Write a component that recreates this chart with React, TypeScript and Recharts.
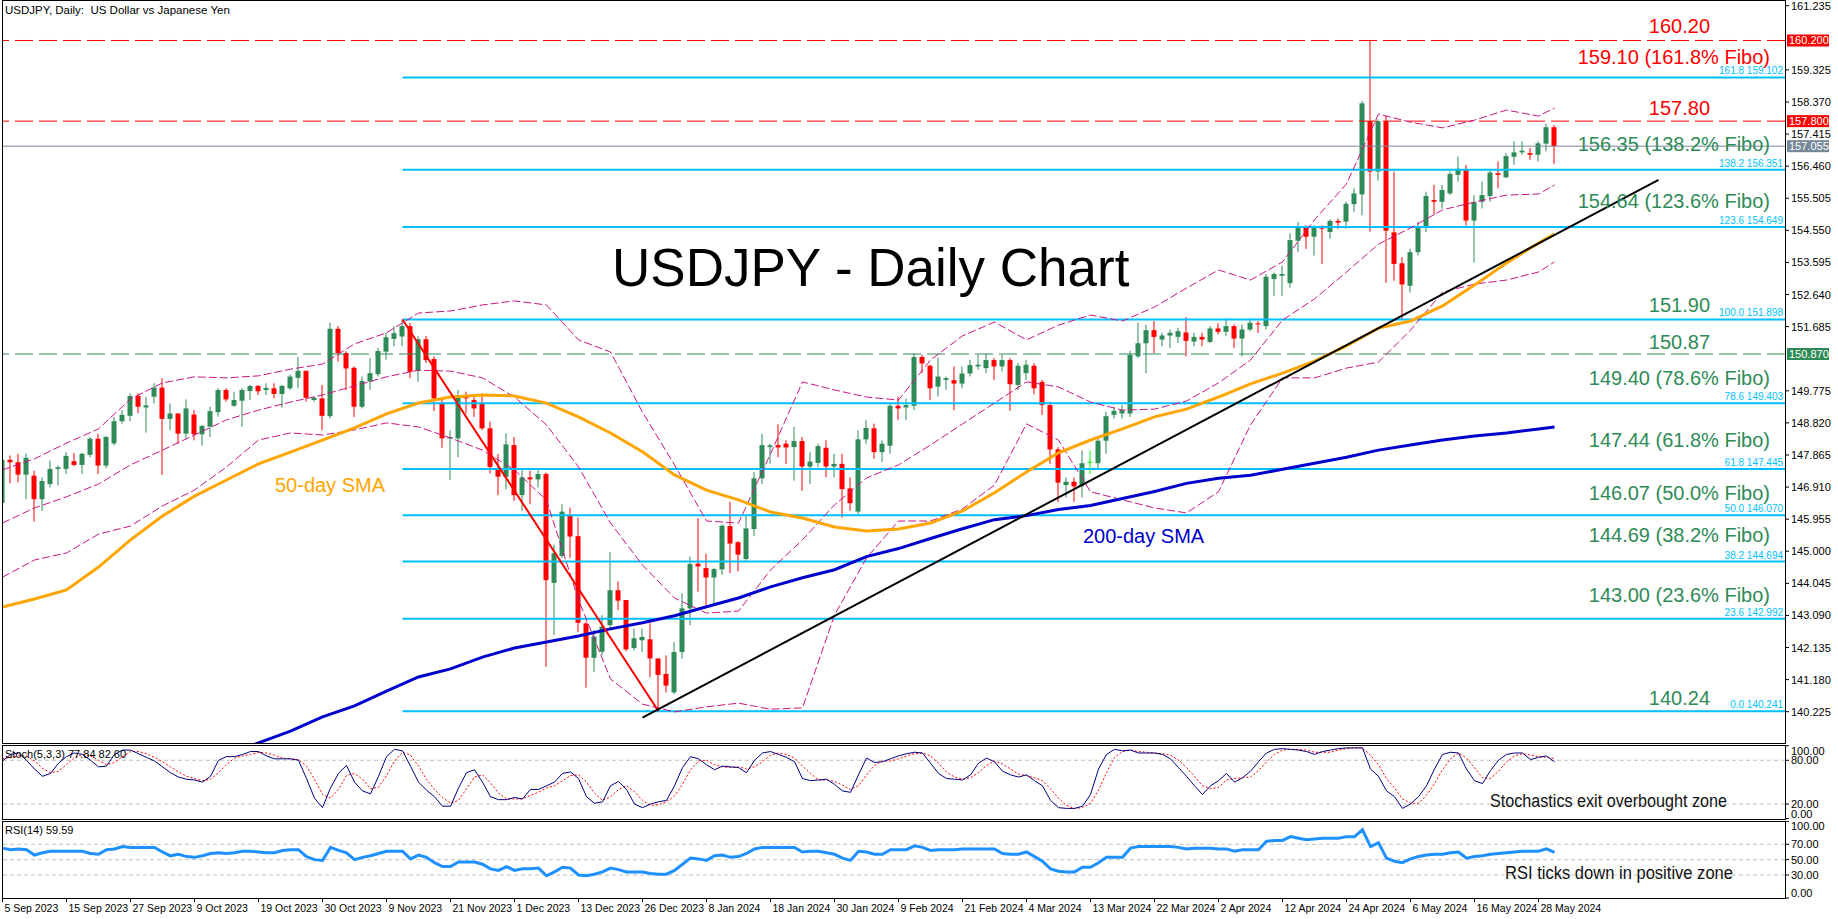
import {
  Bar,
  ComposedChart,
  Line,
  ReferenceDot,
  ReferenceLine,
  XAxis,
  YAxis,
} from 'recharts'

const FONT = '"Liberation Sans", Arial, sans-serif'
const X_DOMAIN: [number, number] = [-0.0625, 222.8125]
const PRICE_DOMAIN: [number, number] = [139.294, 161.375]

// daily candles, 5 Sep 2023 .. 30 May 2024
const open = [
  146.44, 147.72, 147.65, 147.28, 147.25, 146.55, 147.0, 147.45, 147.45, 147.68,
  147.57, 147.87, 148.35, 147.55, 148.21, 148.87, 149.03, 149.62, 149.28, 149.6,
  149.87, 148.94, 149.1, 148.5, 149.07, 148.48, 148.71, 149.14, 149.8, 149.33,
  149.48, 149.77, 149.92, 149.8, 149.85, 149.68, 149.85, 150.16, 150.37, 149.5,
  149.55, 149.02, 151.62, 150.9, 150.46, 149.3, 150.05, 150.27, 150.94, 151.32,
  151.39, 151.7, 150.37, 151.31, 150.72, 149.42, 148.36, 148.36, 149.65, 149.5,
  149.42, 148.66, 147.45, 147.22, 148.16, 146.67, 147.2, 147.14, 147.3, 144.06,
  144.86, 146.08, 145.45, 142.85, 141.83, 142.01, 142.8, 143.84, 143.55, 142.12,
  142.35, 142.38, 141.81, 141.35, 140.8, 142.0, 143.3, 144.63, 144.5, 144.22,
  144.46, 145.75, 145.27, 144.77, 145.66, 147.17, 148.1, 148.16, 148.2, 148.1,
  148.28, 147.52, 147.63, 148.08, 147.52, 147.6, 146.87, 146.18, 148.33, 148.66,
  147.95, 148.14, 149.33, 149.28, 149.33, 150.78, 150.52, 149.9, 150.1, 150.09,
  149.99, 150.29, 150.5, 150.45, 150.69, 150.5, 150.69, 149.95, 150.3, 150.52,
  150.04, 149.35, 148.03, 146.97, 147.07, 146.95, 147.65, 147.62, 148.29, 149.06,
  149.1, 149.1, 150.8, 151.19, 151.58, 151.3, 151.42, 151.38, 151.51, 151.24,
  151.38, 151.23, 151.63, 151.53, 151.7, 151.33, 151.6, 151.78, 151.7, 153.1,
  153.2, 152.98, 154.24, 154.64, 154.36, 154.64, 154.5, 154.83, 154.81, 155.33,
  155.62, 157.8, 156.3, 157.8, 154.49, 153.57, 152.9, 153.9, 154.66, 155.45,
  155.4, 155.65, 156.2, 156.37, 154.84, 155.4, 155.57, 156.25, 156.13, 156.74,
  156.87, 156.85, 156.8, 157.13, 157.62,
]
const high = [
  147.8, 147.85, 147.9, 147.91, 147.4, 147.2, 147.7, 147.55, 147.95, 147.92,
  147.93, 148.4, 148.5, 148.44, 149.0, 149.2, 149.7, 149.7, 149.6, 150.0,
  150.15, 149.4, 149.1, 149.52, 149.2, 148.75, 149.3, 149.85, 149.85, 149.75,
  149.85, 149.95, 149.95, 150.0, 150.0, 149.95, 150.26, 150.78, 150.37, 149.6,
  149.95, 151.8, 151.7, 150.95, 150.5, 150.2, 150.75, 151.05, 151.5, 151.7,
  151.88, 151.8, 151.4, 151.4, 150.8, 149.55, 148.6, 149.8, 149.75, 149.65,
  149.7, 148.86, 147.9, 148.51, 148.4, 147.45, 147.4, 147.45, 147.34, 145.2,
  146.4, 146.3, 146.0, 142.9, 142.66, 143.1, 144.97, 144.1, 143.55, 142.7,
  142.7, 142.86, 141.81, 141.9, 142.3, 143.75, 144.84, 145.98, 144.93, 144.5,
  145.8, 146.47, 145.3, 146.05, 147.35, 148.5, 148.2, 148.78, 148.3, 148.7,
  148.4, 147.95, 148.2, 148.3, 147.9, 147.9, 147.2, 148.6, 148.9, 148.8,
  148.3, 149.42, 149.6, 149.55, 150.9, 150.85, 150.55, 150.76, 150.2, 150.5,
  150.5, 150.7, 150.85, 150.87, 150.75, 150.85, 150.75, 150.6, 150.7, 150.6,
  150.1, 149.45, 148.1, 147.2, 147.2, 148.0, 148.0, 148.35, 149.15, 149.3,
  149.35, 150.96, 151.8, 151.74, 151.86, 151.5, 151.6, 151.65, 151.97, 151.5,
  151.5, 151.7, 151.78, 151.93, 151.75, 151.75, 151.93, 151.85, 153.25, 153.3,
  153.5, 154.46, 154.8, 154.7, 154.7, 154.7, 154.88, 154.9, 155.4, 155.8,
  158.4, 160.21, 157.85, 157.96, 156.3, 153.75, 154.0, 154.8, 155.7, 155.9,
  155.9, 156.3, 156.75, 156.5, 155.6, 156.0, 156.33, 156.6, 156.85, 157.2,
  157.2, 157.0, 157.2, 157.72, 157.68,
]
const low = [
  146.35, 147.02, 147.05, 146.55, 145.88, 146.2, 146.9, 146.96, 147.3, 147.53,
  147.3, 147.8, 147.3, 147.47, 148.15, 148.8, 148.87, 149.1, 148.53, 149.4,
  147.27, 148.6, 148.2, 148.35, 148.3, 148.14, 148.4, 149.0, 149.45, 149.3,
  148.7, 149.5, 149.65, 149.65, 149.55, 149.27, 149.8, 149.85, 149.45, 149.45,
  148.6, 148.95, 150.64, 149.8, 149.0, 149.25, 149.8, 150.2, 150.7, 151.1,
  151.1, 150.15, 150.04, 150.6, 149.17, 148.08, 147.12, 147.8, 149.1, 149.0,
  148.6, 147.32, 146.67, 146.84, 146.5, 146.2, 146.4, 146.9, 141.56, 142.51,
  144.8, 144.8, 142.6, 140.94, 141.4, 141.9, 142.7, 143.25, 142.02, 142.05,
  142.0, 141.25, 140.25, 140.8, 140.75, 141.8, 142.8, 143.8, 143.4, 143.4,
  144.3, 144.35, 144.4, 144.7, 145.45, 147.0, 147.6, 147.8, 147.6, 147.1,
  146.8, 147.0, 147.5, 147.2, 147.2, 146.0, 146.2, 146.1, 148.2, 147.75,
  147.65, 147.9, 148.9, 148.9, 149.2, 150.3, 149.5, 149.6, 149.8, 149.2,
  149.85, 150.2, 150.4, 150.3, 150.1, 150.35, 149.18, 149.8, 150.1, 149.67,
  149.05, 147.6, 146.47, 146.6, 146.47, 146.6, 147.3, 147.47, 147.9, 148.95,
  148.95, 149.0, 150.75, 150.3, 150.9, 151.1, 151.05, 151.2, 150.8, 151.1,
  151.1, 151.2, 151.45, 151.4, 151.05, 150.8, 151.55, 151.5, 151.6, 152.6,
  152.6, 152.85, 153.9, 154.0, 153.8, 153.55, 154.3, 154.6, 154.6, 155.1,
  155.0, 154.51, 156.03, 152.99, 153.05, 151.9, 152.7, 153.8, 154.5, 155.0,
  155.2, 155.6, 156.0, 154.69, 153.59, 155.2, 155.4, 155.8, 156.1, 156.5,
  156.8, 156.65, 156.6, 156.9, 156.53,
]
const close = [
  147.72, 147.65, 147.28, 147.78, 146.55, 147.09, 147.45, 147.5, 147.84, 147.57,
  147.9, 148.35, 147.55, 148.4, 148.87, 149.06, 149.62, 149.3, 149.34, 149.87,
  148.94, 149.1, 148.5, 149.25, 148.48, 148.73, 149.17, 149.8, 149.52, 149.5,
  149.8, 149.92, 149.76, 149.86, 149.68, 149.92, 150.2, 150.37, 149.57, 149.57,
  149.03, 151.62, 150.9, 150.44, 149.3, 150.07, 150.3, 150.96, 151.37, 151.49,
  151.7, 150.34, 151.31, 150.69, 149.55, 148.36, 148.4, 149.65, 149.55, 149.25,
  148.66, 147.51, 147.22, 148.18, 146.67, 147.2, 147.14, 147.3, 144.14, 144.94,
  146.18, 145.44, 142.87, 141.83, 142.46, 142.76, 143.84, 143.53, 142.08, 142.41,
  142.45, 141.81, 141.32, 141.0, 142.0, 143.3, 144.62, 144.55, 144.22, 144.47,
  145.76, 145.23, 144.9, 145.68, 147.17, 148.16, 148.15, 148.09, 148.09, 148.28,
  147.52, 147.67, 148.13, 147.52, 147.6, 146.85, 146.43, 148.33, 148.67, 147.95,
  148.2, 149.33, 149.25, 149.35, 150.78, 150.59, 149.85, 150.2, 150.15, 149.99,
  150.29, 150.54, 150.55, 150.69, 150.5, 150.69, 149.97, 150.52, 150.55, 149.85,
  149.35, 148.03, 147.04, 147.07, 146.93, 147.62, 147.65, 148.29, 149.02, 149.18,
  149.2, 150.84, 151.19, 151.58, 151.38, 151.42, 151.5, 151.55, 151.26, 151.38,
  151.3, 151.63, 151.53, 151.7, 151.33, 151.6, 151.8, 151.75, 153.17, 153.25,
  153.25, 154.26, 154.64, 154.36, 154.64, 154.6, 154.83, 154.78, 155.34, 155.65,
  158.33, 156.3, 157.8, 154.54, 153.55, 152.94, 153.9, 154.66, 155.57, 155.4,
  155.75, 156.23, 156.38, 154.84, 155.39, 155.6, 156.27, 156.2, 156.76, 156.87,
  156.92, 156.8, 157.14, 157.62, 157.055,
]

const sampleIdx = [
  0, 4, 8, 12, 16, 20, 24, 28, 32, 36, 40, 44, 48, 52, 56, 60, 64, 68, 72, 76,
  80, 84, 88, 92, 96, 100, 104, 108, 112, 116, 120, 124, 128, 132, 136, 140,
  144, 148, 152, 156, 160, 164, 168, 172, 176, 180, 184, 188, 192, 194,
]
const sma50 = [
  143.34, 143.58, 143.85, 144.53, 145.34, 146.05, 146.64, 147.12, 147.6, 147.95,
  148.31, 148.67, 149.09, 149.41, 149.59, 149.65, 149.62, 149.41, 149.0, 148.52,
  147.96, 147.27, 146.82, 146.53, 146.17, 145.99, 145.72, 145.6, 145.66, 145.84,
  146.2, 146.74, 147.36, 147.93, 148.31, 148.64, 149.0, 149.23, 149.59, 149.98,
  150.3, 150.66, 151.11, 151.64, 151.85, 152.3, 152.92, 153.58, 154.17, 154.44,
]
const bbUpper = [
  147.42, 147.75, 148.22, 148.64, 149.53, 150.01, 150.19, 150.16, 150.22, 150.42,
  150.57, 151.17, 151.5, 152.09, 152.15, 152.33, 152.45, 152.33, 151.29, 150.93,
  149.14, 147.57, 145.9, 145.84, 147.9, 150.04, 149.8, 149.59, 149.5, 150.69,
  151.41, 151.82, 151.29, 151.73, 152.03, 151.85, 152.27, 152.83, 153.37, 153.07,
  153.61, 154.86, 155.93, 158.01, 157.77, 157.6, 157.83, 158.13, 157.95, 158.19,
]
const bbMiddle = [
  145.84, 146.29, 146.62, 147.0, 147.57, 148.01, 148.46, 148.91, 149.2, 149.44,
  149.65, 149.92, 150.19, 150.39, 150.36, 150.16, 149.59, 148.76, 147.51, 145.84,
  144.59, 143.61, 143.16, 143.22, 144.44, 145.34, 146.38, 147.18, 147.57, 148.16,
  148.79, 149.41, 150.04, 149.89, 149.44, 149.2, 149.23, 149.47, 150.01, 150.69,
  151.88, 152.51, 153.31, 154.14, 154.62, 155.16, 155.39, 155.6, 155.63, 155.9,
]
const bbLower = [
  144.23, 144.74, 144.95, 145.51, 145.75, 146.35, 146.82, 147.51, 148.31, 148.52,
  148.46, 148.61, 148.82, 148.7, 148.37, 148.01, 147.42, 146.52, 143.55, 141.2,
  140.45, 140.22, 140.37, 140.48, 140.3, 140.34, 143.1, 144.8, 145.9, 145.9,
  146.26, 146.97, 148.79, 148.31, 146.77, 146.53, 146.29, 146.14, 146.77, 148.76,
  150.16, 150.16, 150.45, 150.63, 151.58, 152.71, 152.95, 153.07, 153.31, 153.61,
]
const sma200Idx = [
  28, 32, 36, 40, 44, 48, 52, 56, 60, 64, 68, 72, 76, 80, 84, 88, 92, 96, 100,
  104, 108, 112, 116, 120, 124, 128, 132, 136, 140, 144, 148, 152, 156, 160, 164,
  168, 172, 176, 180, 184, 188, 192, 194,
]
const sma200 = [
  138.94, 139.3, 139.65, 140.07, 140.4, 140.84, 141.26, 141.5, 141.85, 142.12,
  142.3, 142.48, 142.69, 142.87, 143.08, 143.35, 143.61, 143.94, 144.21, 144.45,
  144.84, 145.08, 145.38, 145.67, 145.94, 146.06, 146.24, 146.36, 146.57, 146.78,
  147.02, 147.17, 147.26, 147.44, 147.62, 147.8, 148.01, 148.16, 148.31, 148.43,
  148.52, 148.64, 148.7,
]

const stochMain = [
  79, 88, 90, 80, 68, 58, 62, 76, 85, 90, 88, 80, 71, 72, 88, 94, 94, 89, 84, 79,
  71, 63, 57, 54, 53, 50, 58, 80, 85, 85, 88, 92, 92, 86, 82, 82, 82, 80, 55, 28,
  15, 42, 62, 73, 50, 38, 34, 58, 85, 95, 93, 72, 50, 39, 30, 17, 17, 42, 63, 67,
  50, 30, 26, 26, 29, 27, 40, 40, 45, 50, 62, 64, 55, 30, 21, 23, 45, 51, 40, 20,
  15, 20, 23, 25, 45, 70, 85, 82, 74, 67, 72, 71, 70, 63, 80, 90, 92, 88, 84, 78,
  55, 52, 53, 54, 47, 38, 36, 60, 83, 77, 78, 82, 86, 89, 91, 90, 76, 62, 55, 54,
  53, 60, 76, 83, 78, 65, 60, 57, 60, 52, 45, 25, 15, 14, 14, 17, 33, 68, 88, 95,
  93, 94, 90, 90, 90, 88, 82, 70, 58, 45, 33, 45, 52, 62, 50, 56, 65, 78, 90, 95,
  96, 95, 94, 92, 88, 92, 94, 96, 97, 97, 97, 68, 58, 38, 30, 14, 20, 30, 45, 68,
  88, 91, 90, 68, 52, 48, 66, 80, 88, 90, 90, 81, 84, 86, 77.84,
]
const stochSignal = [
  82, 84, 86, 86, 79, 69, 63, 65, 74, 84, 88, 86, 80, 74, 77, 85, 92, 92, 89, 84,
  78, 71, 64, 58, 55, 52, 54, 63, 74, 83, 86, 88, 91, 90, 87, 83, 82, 81, 72, 54,
  33, 28, 40, 59, 62, 54, 41, 43, 59, 79, 91, 87, 72, 54, 40, 29, 21, 25, 41, 57,
  60, 49, 35, 27, 27, 27, 32, 36, 42, 45, 52, 59, 60, 50, 35, 25, 30, 40, 45, 37,
  25, 18, 19, 23, 31, 47, 67, 79, 80, 74, 71, 70, 71, 68, 71, 78, 87, 90, 88, 83,
  72, 62, 53, 53, 51, 46, 40, 45, 60, 73, 79, 79, 82, 86, 89, 90, 86, 76, 64, 57,
  54, 56, 63, 73, 79, 75, 68, 61, 59, 56, 52, 41, 28, 18, 14, 15, 21, 39, 63, 84,
  92, 94, 92, 91, 90, 89, 87, 80, 70, 58, 45, 41, 43, 53, 55, 56, 57, 66, 78, 88,
  94, 95, 95, 94, 91, 91, 91, 94, 96, 97, 97, 87, 74, 55, 42, 27, 21, 21, 32, 48,
  67, 82, 90, 83, 70, 56, 55, 65, 78, 86, 89, 87, 85, 84, 82.6,
]
const rsi = [
  65, 63, 64, 63, 56, 59, 61, 61, 61, 61, 61, 58, 57, 63, 64, 67, 66, 66, 66, 66,
  60, 55, 57, 54, 53, 55, 58, 59, 58, 59, 61, 61, 60, 59, 59, 62, 63, 63, 54, 50,
  49, 66, 62, 59, 50, 53, 55, 58, 61, 61, 61, 51, 56, 53, 46, 41, 41, 47, 47, 47,
  44, 38, 36, 41, 36, 38, 38, 39, 29, 34, 40, 39, 30, 29, 31, 34, 39, 37, 34, 34,
  34, 32, 31, 31, 36, 44, 52, 51, 49, 55, 56, 53, 54, 58, 64, 66, 66, 66, 66, 66,
  60, 61, 61, 59, 57, 52, 49, 61, 60, 57, 57, 63, 63, 63, 68, 66, 62, 63, 63, 63,
  64, 64, 64, 64, 64, 58, 57, 57, 60, 54, 48, 38, 35, 34, 34, 40, 40, 46, 53, 53,
  53, 65, 67, 67, 67, 67, 67, 66, 64, 65, 65, 65, 64, 64, 61, 63, 63, 63, 74, 75,
  75, 80, 78, 76, 77, 78, 78, 78, 80, 80, 89, 67, 72, 52, 48, 46, 51, 54, 56, 57,
  57, 59, 60, 52, 54, 55, 57, 58, 59, 60, 61, 61, 61, 64, 59.59,
]

const priceTicks = [
  140.225, 141.18, 142.135, 143.09, 144.045, 145.0, 145.955, 146.91, 147.865,
  148.82, 149.775, 151.685, 152.64, 153.595, 154.55, 155.505, 156.46, 157.415,
  158.37, 159.325, 161.235,
]
const dateTickIdx = [
  0, 8, 16, 24, 32, 40, 48, 56, 64, 72, 80, 88, 96, 104, 112, 120, 128, 136, 144,
  152, 160, 168, 176, 184, 192,
]
const dateLabels = [
  '5 Sep 2023', '15 Sep 2023', '27 Sep 2023', '9 Oct 2023', '19 Oct 2023',
  '30 Oct 2023', '9 Nov 2023', '21 Nov 2023', '1 Dec 2023', '13 Dec 2023',
  '26 Dec 2023', '8 Jan 2024', '18 Jan 2024', '30 Jan 2024', '9 Feb 2024',
  '21 Feb 2024', '4 Mar 2024', '13 Mar 2024', '22 Mar 2024', '2 Apr 2024',
  '12 Apr 2024', '24 Apr 2024', '6 May 2024', '16 May 2024', '28 May 2024',
]

// Fibonacci retracement of the 151.898 -> 140.241 leg
const fiboRatios = ['161.8', '138.2', '123.6', '100.0', '78.6', '61.8', '50.0', '38.2', '23.6', '0.0']
const fiboLevels = [159.102, 156.351, 154.649, 151.898, 149.403, 147.445, 146.07, 144.694, 142.992, 140.241]

// analyst's price notes: text, colour, right edge (bar), baseline price
const noteTexts = [
  '160.20', '159.10 (161.8% Fibo)', '157.80', '156.35 (138.2% Fibo)', '154.64 (123.6% Fibo)',
  '151.90', '150.87', '149.40 (78.6% Fibo)', '147.44 (61.8% Fibo)', '146.07 (50.0% Fibo)',
  '144.69 (38.2% Fibo)', '143.00 (23.6% Fibo)', '140.24',
]
const noteRed = [true, true, true, false, false, false, false, false, false, false, false, false, false]
const noteLong = [false, true, false, true, true, false, false, true, true, true, true, true, false]
const notePrice = [
  160.423, 159.5, 157.983, 156.911, 155.215, 152.12, 151.02, 149.948, 148.1, 146.525,
  145.275, 143.49, 140.425,
]

const pick = (idx: number[], vals: number[], i: number) => {
  const k = idx.indexOf(i)
  return k < 0 ? null : vals[k]
}

const rows = open.map((o, i) => ({
  i,
  o,
  h: high[i],
  l: low[i],
  c: close[i],
  range: [low[i], high[i]],
  sma50: pick(sampleIdx, sma50, i),
  sma200: pick(sma200Idx, sma200, i),
  bbU: pick(sampleIdx, bbUpper, i),
  bbM: pick(sampleIdx, bbMiddle, i),
  bbL: pick(sampleIdx, bbLower, i),
  stM: stochMain[i],
  stS: stochSignal[i],
  rsi: rsi[i],
}))

function Candle(props: any) {
  const { x, y, width, height, payload } = props
  if (!payload || x == null) return null
  const { o, h, l, c } = payload
  const top = Math.min(y, y + height)
  const span = Math.abs(height)
  const py = (v: number) => top + ((h - v) / (h - l || 1)) * span
  const cx = x + width / 2
  const color = c === o ? '#00ff00' : c > o ? '#2e8b57' : '#ff0000'
  const bTop = py(Math.max(o, c))
  const bBot = py(Math.min(o, c))
  return (
    <g>
      <line x1={cx} x2={cx} y1={top} y2={top + span} stroke={color} strokeWidth={1} />
      {c === o ? (
        <line x1={cx - 2.5} x2={cx + 2.5} y1={bTop} y2={bTop} stroke={color} />
      ) : (
        <rect x={cx - 2.5} y={bTop} width={5} height={Math.max(1, bBot - bTop)} fill={color} />
      )}
    </g>
  )
}

function PriceTick(props: any) {
  const { x, y, payload } = props
  return (
    <g>
      <line x1={x} x2={x + 4} y1={y} y2={y} stroke="#000" />
      <text x={x + 6} y={y + 4} fontSize={11} fontFamily={FONT} fill="#000">
        {Number(payload.value).toFixed(3)}
      </text>
    </g>
  )
}

function OscTick(props: any) {
  const { x, y, payload, top, bottom } = props
  const v = payload.value
  const dy = v === top ? 5 : v === bottom ? -5 : 0
  return (
    <g>
      <line x1={x} x2={x + 4} y1={y} y2={y} stroke="#000" />
      <text x={x + 6} y={y + dy + 4} fontSize={11} fontFamily={FONT} fill="#000">
        {Number(v).toFixed(2)}
      </text>
    </g>
  )
}

function DateTick(props: any) {
  const { x, y, payload } = props
  const k = dateTickIdx.indexOf(payload.value)
  return (
    <g>
      <line x1={x} x2={x} y1={y} y2={y + 4} stroke="#000" />
      <text x={x + 2} y={y + 14} fontSize={10.5} fontFamily={FONT} fill="#000">
        {dateLabels[k]}
      </text>
    </g>
  )
}

function AxisTag(props: any) {
  const { viewBox, text, bg } = props
  if (!viewBox) return null
  const x = viewBox.x + viewBox.width + 2
  return (
    <g>
      <rect x={x} y={viewBox.y - 6} width={42} height={12} fill={bg} />
      <text x={x + 2} y={viewBox.y + 4} fontSize={11} fontFamily={FONT} fill="#fff">
        {text}
      </text>
    </g>
  )
}

function FiboTag(props: any) {
  const { viewBox, text } = props
  if (!viewBox) return null
  return (
    <text
      x={viewBox.x + viewBox.width - 2}
      y={viewBox.y - 3}
      fontSize={10}
      fontFamily={FONT}
      fill="#00bfff"
      textAnchor="end"
    >
      {text}
    </text>
  )
}

function NoteTag(props: any) {
  const { viewBox, text, color, size, anchor } = props
  if (!viewBox) return null
  return (
    <text
      x={viewBox.x}
      y={viewBox.y}
      fontSize={size}
      fontFamily={FONT}
      fill={color}
      textAnchor={anchor}
    >
      {text}
    </text>
  )
}

const bandLine = (key: string) => (
  <Line
    key={key}
    dataKey={key}
    stroke="#c71585"
    strokeWidth={1}
    strokeDasharray="8 3"
    dot={false}
    connectNulls
    isAnimationActive={false}
  />
)

function MainPanel() {
  return (
    <ComposedChart
      width={1838}
      height={744}
      data={rows}
      margin={{ top: 1, right: 0, bottom: 1, left: 2 }}
    >
      <XAxis type="number" dataKey="i" domain={X_DOMAIN} allowDataOverflow hide />
      <YAxis
        orientation="right"
        width={53}
        domain={PRICE_DOMAIN}
        allowDataOverflow
        ticks={priceTicks}
        interval={0}
        tick={<PriceTick />}
        tickLine={false}
        axisLine={false}
        tickSize={0}
        tickMargin={0}
      />
      <ReferenceLine y={160.2} stroke="#ff0000" strokeDasharray="18 6" ifOverflow="visible"
        label={<AxisTag text="160.200" bg="#ff0000" />} />
      <ReferenceLine y={157.8} stroke="#ff0000" strokeDasharray="18 6" ifOverflow="visible"
        label={<AxisTag text="157.800" bg="#ff0000" />} />
      <ReferenceLine y={150.87} stroke="#2e8b57" strokeDasharray="18 6" ifOverflow="visible"
        label={<AxisTag text="150.870" bg="#2e8b57" />} />
      <ReferenceLine y={157.055} stroke="#778899" ifOverflow="visible"
        label={<AxisTag text="157.055" bg="#778899" />} />
      {fiboLevels.map((lv, k) => (
        <ReferenceLine
          key={'f' + k}
          segment={[{ x: 50, y: lv }, { x: X_DOMAIN[1], y: lv }]}
          stroke="#00bfff"
          strokeWidth={2}
          ifOverflow="visible"
          label={<FiboTag text={`${fiboRatios[k]} ${lv.toFixed(3)}`} />}
        />
      ))}
      <Bar dataKey="range" barSize={5} shape={(p: any) => <Candle {...p} />} isAnimationActive={false} />
      {bandLine('bbU')}
      {bandLine('bbM')}
      {bandLine('bbL')}
      <Line dataKey="sma200" stroke="#0000cd" strokeWidth={3} dot={false} connectNulls isAnimationActive={false} />
      <Line dataKey="sma50" stroke="#ffa500" strokeWidth={3} dot={false} connectNulls isAnimationActive={false} />
      <ReferenceLine
        segment={[{ x: 50, y: 151.898 }, { x: 82, y: 140.241 }]}
        stroke="#ff0000"
        strokeWidth={2}
        ifOverflow="visible"
      />
      <ReferenceLine
        segment={[{ x: 80, y: 140.05 }, { x: 207, y: 156.05 }]}
        stroke="#000"
        strokeWidth={2}
        ifOverflow="visible"
      />
      {noteTexts.map((t, k) => (
        <ReferenceDot
          key={'n' + k}
          x={noteLong[k] ? 220.94 : 213.44}
          y={notePrice[k]}
          r={0}
          fill="none"
          stroke="none"
          ifOverflow="visible"
          label={<NoteTag text={t} color={noteRed[k] ? '#ff0000' : '#2e8b57'} size={20} anchor="end" />}
        />
      ))}
      <ReferenceDot x={34.06} y={146.76} r={0} fill="none" stroke="none" ifOverflow="visible"
        label={<NoteTag text="50-day SMA" color="#ffa500" size={20} anchor="start" />} />
      <ReferenceDot x={135.06} y={145.25} r={0} fill="none" stroke="none" ifOverflow="visible"
        label={<NoteTag text="200-day SMA" color="#0000cd" size={20} anchor="start" />} />
      <ReferenceDot x={76.19} y={152.894} r={0} fill="none" stroke="none" ifOverflow="visible"
        label={<NoteTag text="USDJPY - Daily Chart" color="#000" size={53} anchor="start" />} />
    </ComposedChart>
  )
}

function StochPanel() {
  return (
    <ComposedChart
      width={1838}
      height={74}
      data={rows}
      margin={{ top: 0.7, right: 0, bottom: 0.4, left: 2 }}
    >
      <XAxis type="number" dataKey="i" domain={X_DOMAIN} allowDataOverflow hide />
      <YAxis
        orientation="right"
        width={53}
        domain={[0, 100]}
        ticks={[0, 20, 80, 100]}
        interval={0}
        tick={<OscTick top={100} bottom={0} />}
        tickLine={false}
        axisLine={false}
        tickSize={0}
        tickMargin={0}
      />
      <ReferenceLine y={80} stroke="#c0c0c0" strokeDasharray="4 3" />
      <ReferenceLine y={20} stroke="#c0c0c0" strokeDasharray="4 3" />
      <Line dataKey="stS" stroke="#ff0000" strokeWidth={1} strokeDasharray="2 2" dot={false} isAnimationActive={false} />
      <Line dataKey="stM" stroke="#000080" strokeWidth={1} dot={false} isAnimationActive={false} />
    </ComposedChart>
  )
}

function RsiPanel() {
  return (
    <ComposedChart
      width={1838}
      height={97}
      data={rows}
      margin={{ top: 0.3, right: 0, bottom: 0, left: 2 }}
    >
      <XAxis
        type="number"
        dataKey="i"
        domain={X_DOMAIN}
        allowDataOverflow
        ticks={dateTickIdx}
        interval={0}
        tick={<DateTick />}
        tickLine={false}
        axisLine={false}
        tickSize={0}
        tickMargin={0}
        height={20}
      />
      <YAxis
        orientation="right"
        width={53}
        domain={[0, 100]}
        ticks={[0, 30, 50, 70, 100]}
        interval={0}
        tick={<OscTick top={100} bottom={0} />}
        tickLine={false}
        axisLine={false}
        tickSize={0}
        tickMargin={0}
      />
      <ReferenceLine y={70} stroke="#c0c0c0" strokeDasharray="4 3" />
      <ReferenceLine y={50} stroke="#c0c0c0" strokeDasharray="4 3" />
      <ReferenceLine y={30} stroke="#c0c0c0" strokeDasharray="4 3" />
      <Line dataKey="rsi" stroke="#1e90ff" strokeWidth={3} dot={false} isAnimationActive={false} />
    </ComposedChart>
  )
}

const box = (top: number, height: number) => ({
  position: 'absolute' as const,
  left: 2,
  top,
  width: 1784,
  height,
  border: '1px solid #000',
  boxSizing: 'border-box' as const,
  pointerEvents: 'none' as const,
})

export default function App() {
  return (
    <div style={{ position: 'absolute', left: 0, top: 0, width: 1838, height: 919, background: '#fff', fontFamily: FONT }}>
      <div style={{ position: 'absolute', left: 0, top: 0 }}>
        <MainPanel />
      </div>
      <div style={{ position: 'absolute', left: 0, top: 745 }}>
        <StochPanel />
      </div>
      <div style={{ position: 'absolute', left: 0, top: 821 }}>
        <RsiPanel />
      </div>
      <div style={box(0, 744)} />
      <div style={box(745, 75)} />
      <div style={box(821, 78)} />
      <svg width={1838} height={919} style={{ position: 'absolute', left: 0, top: 0, pointerEvents: 'none' }}>
        <text x={5} y={14} fontSize={11.5} fontFamily={FONT} fill="#000" style={{ whiteSpace: 'pre' }}>
          {'USDJPY, Daily:  US Dollar vs Japanese Yen'}
        </text>
        <text x={5} y={758} fontSize={11} fontFamily={FONT} fill="#000">
          Stoch(5,3,3) 77.84 82.60
        </text>
        <text x={5} y={834} fontSize={11} fontFamily={FONT} fill="#000">
          RSI(14) 59.59
        </text>
        <text x={1490} y={807} fontSize={18} fontFamily={FONT} fill="#111" textLength={237} lengthAdjust="spacingAndGlyphs">
          Stochastics exit overbought zone
        </text>
        <text x={1505} y={879} fontSize={18} fontFamily={FONT} fill="#111" textLength={228} lengthAdjust="spacingAndGlyphs">
          RSI ticks down in positive zone
        </text>
      </svg>
    </div>
  )
}
